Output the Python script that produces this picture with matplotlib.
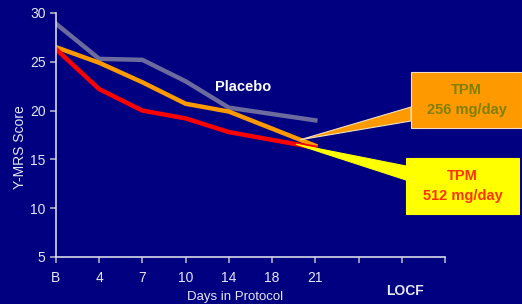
import numpy as np
import matplotlib.pyplot as plt
from matplotlib.patches import Rectangle, Polygon

# ---------------------- dados ----------------------
days = ["B", "4", "7", "10", "14", "18", "21", "", "", ""]
x_pts = [0, 1, 2, 3, 4, 6]          # B, 4, 7, 10, 14, 21 (sem ponto no dia 18)
placebo = [28.9, 25.3, 25.2, 23.0, 20.3, 19.0]
tpm_256 = [26.5, 24.9, 22.9, 20.7, 19.9, 16.4]
tpm_512 = [26.3, 22.2, 20.0, 19.2, 17.8, 16.2]

BG = "#000080"
FG = "#e6e6f5"

plt.rcParams["font.family"] = ["Liberation Sans", "DejaVu Sans"]

fig = plt.figure(figsize=(5.22, 3.04), dpi=100, facecolor=BG)
ax = fig.add_axes([56 / 522, 47 / 304, 389 / 522, 244 / 304], facecolor=BG)

ax.plot(x_pts, placebo, color="#6b6b9e", lw=3.2)
ax.plot(x_pts, tpm_256, color="#ff9900", lw=3.2)
ax.plot(x_pts, tpm_512, color="#ff0000", lw=3.2)

ax.set_xlim(0, 9)
ax.set_ylim(5, 30)
ax.set_xticks(range(len(days)))
ax.set_xticklabels(days)
ax.set_yticks([5, 10, 15, 20, 25, 30])
for s in ["top", "right"]:
    ax.spines[s].set_visible(False)
for s in ["left", "bottom"]:
    ax.spines[s].set_color("#d8d8e8")
    ax.spines[s].set_linewidth(1.2)
ax.tick_params(colors="#b0b0c8", labelcolor=FG, labelsize=10, length=4, width=1.2)
ax.tick_params(axis="x", pad=6)

fig.text(20 / 522, 1 - 147 / 304, "Y-MRS Score", rotation=90, color=FG,
         fontsize=10, ha="center", va="center")
fig.text(235 / 522, 1 - 297 / 304, "Days in Protocol", color=FG,
         fontsize=9.5, ha="center", va="center")
fig.text(405 / 522, 1 - 291 / 304, "LOCF", color=FG, fontsize=10,
         fontweight="bold", ha="center", va="center")
ax.text(4.33, 22.4, "Placebo", color="white", fontsize=10.5,
        fontweight="bold", ha="center", va="center")

# ---------------------- balões ----------------------
inv = fig.transFigure.inverted()


def callout(tip_x, series, box, base, face, edge, label, tcolor):
    tip_y = np.interp(tip_x, x_pts, series)
    tip = inv.transform(ax.transData.transform((tip_x, tip_y)))
    x0, y0, x1, y1 = box
    bx = x0 / 522
    wedge = Polygon([tip, (bx, 1 - base[0] / 304), (bx, 1 - base[1] / 304)],
                    closed=True, transform=fig.transFigure, fc=face,
                    ec=edge, lw=0.8, zorder=5)
    fig.add_artist(wedge)
    rect = Rectangle((bx, 1 - y1 / 304), (x1 - x0) / 522, (y1 - y0) / 304,
                     transform=fig.transFigure, fc=face, ec=edge, lw=0.8,
                     zorder=6)
    fig.add_artist(rect)
    fig.text((x0 + x1) / 2 / 522, 1 - (y0 + y1) / 2 / 304, label,
             color=tcolor, fontsize=10.5, fontweight="bold", ha="center",
             va="center", linespacing=1.5, zorder=7)


callout(5.65, tpm_256, (411, 72, 522, 128), (107, 121), "#ff9900", "#f0e0c0",
        "TPM\n256 mg/day", "#808000")
callout(5.55, tpm_512, (406, 158, 519, 214), (166, 180), "#ffff00", "#ffff00",
        "TPM\n512 mg/day", "#ff3300")

fig.savefig("out.png", dpi=100, facecolor=BG)
